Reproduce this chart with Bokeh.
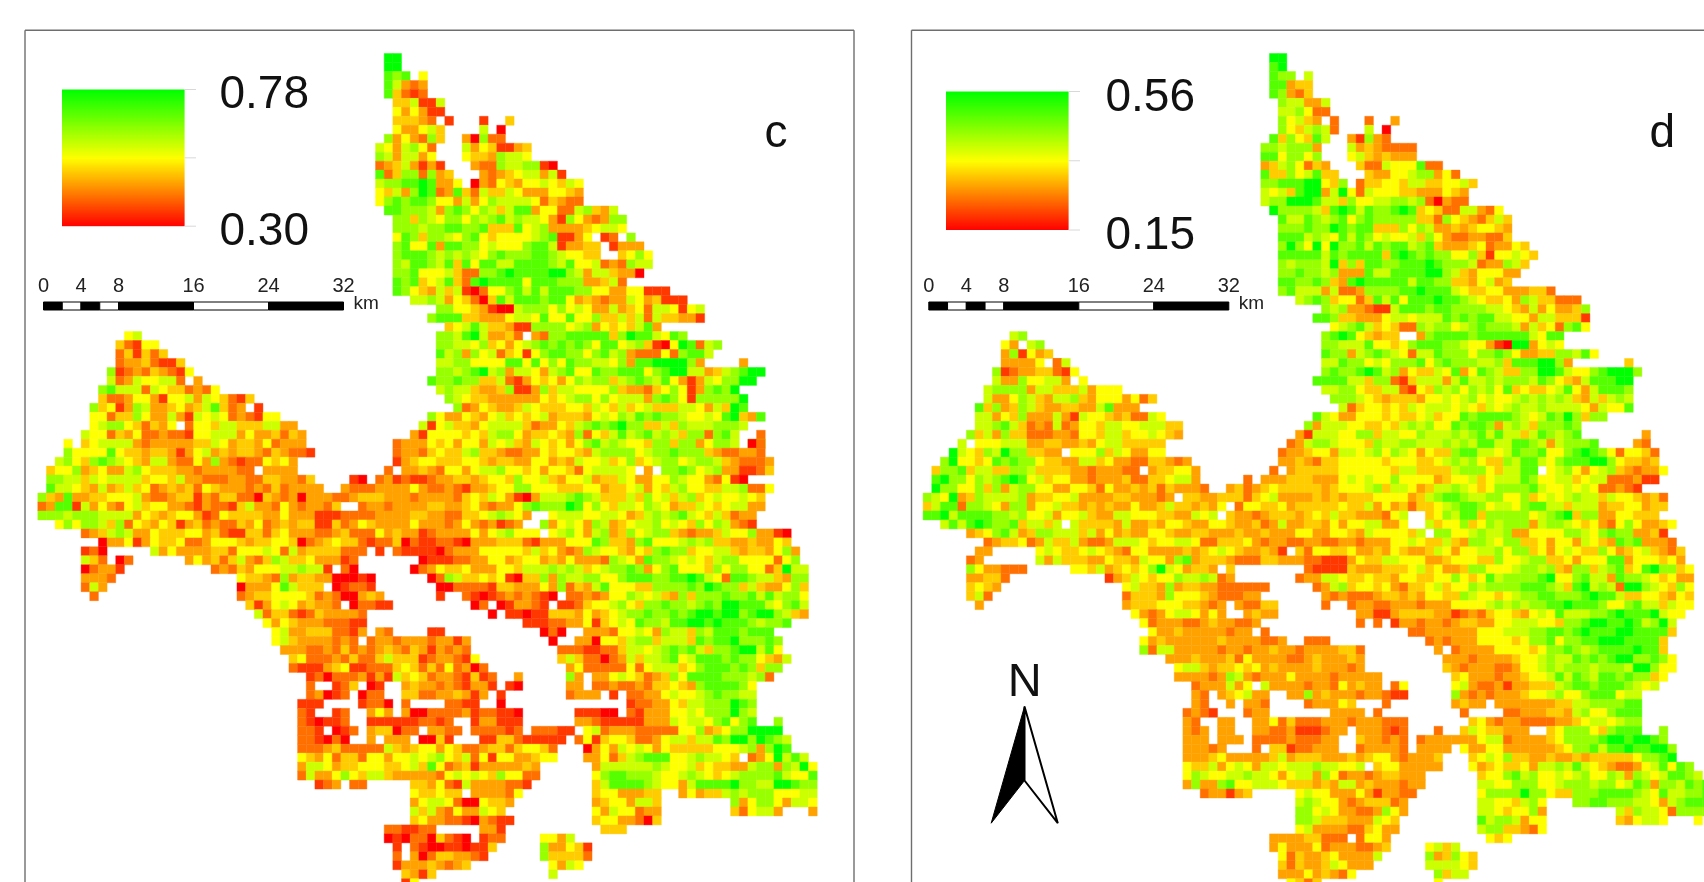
import numpy as np
from bokeh.plotting import figure
from bokeh.embed import file_html
from bokeh.resources import INLINE
from bokeh.models import ColumnDataSource, LinearColorMapper, Range1d
from bokeh.core.properties import value

# Each row: "startcol:levels" runs, '.' = no data. Levels 0 (red) .. 9 (green)
C_ROWS = [
"40:99","40:99","40:878 44:5","40:86323","40:84212","41:446116","41:535311","41:44432 47:1 51:1 54:4",
"41:533564 51:6 53:0","40:7353274 49:30722","39:6536752 49:63541134","39:7636635 49:54437665",
"39:23463131 50:3227667710","39:824772734 51:3234566361","39:6778898335 50:0325435565465",
"39:546379823842644653335543","39:578788755363576666524322","40:88777637875764688355226743 6",
"41:774765775767867665317532377","41:7776778877844485673333 45665","41:5874776578545555678 1 1 3 5 . 1 2 . 7",
"41:78558388775655 57886 1 3 3 4 4 . 1 3 3 3","41:7888767676 5787 7788765 5 4 4 3 . 4 5 7 5","41:768876848588668888 7 6 8 5 5 6 2 3 2 7 6 6",
"41:7785556 4 2 2 778988889 9 7 6 3 6 6 4 3 3 0","41:878456842898888 5 8 8 8 7 7 7 3 3 4 6 2","41:875436461025578686 8887755335511 1",
"43:6676 3 5 4 2 0 4 8 6 8 8 8 7 8 8 5 3 4 3 2 3 3 6 5 3 4 1 1 1","46:77 5 5 4 3 1 0 0 6 7 7 7 5 7 5 6 5 3 3 6 3 4 5 2 6 6 5 1 5 6","45:7 8 8 8 4 4 3 3 3 5 6 6 5 8 5 5 8 5 5 7 4 4 6 4 6 2 6 4 4 3 3 1",
"47:4 5 6 8 6 4 4 3 1 1 7 7 7 7 5 6 7 3 5 4 5 4 6 8 3",
"10:56 46:776896334 2 . 3 2 77 8 8 8 8 8 4 7 9 8 8 6 5 8 7","9:42155 46:7766574535678 7 8 7 8 7 5 8 8 5 6 7 4 1 0 5 9 8 2 6 7 4",
"9:241424 46:8 6 7 3 7 5 6 2 4 5 1 5 7 8 8 7 7 5 7 8 6 7 3 2 2 2 5 2 7 8 8 6 6","9:23342114 46:6 6 7 7 5 5 5 5 8 8 5 8 5 7 5 8 7 7 6 6 5 7 3 8 8 9 9 9 9 7 3 81:3",
"8:7123243215 46:7 7 6 7 8 9 6 7 3 6 6 5 3 6 7 8 5 5 8 7 7 8 8 8 5 7 8 9 9 6 6 3 4 6 7 8 9 9 7",
"8:623655662 18:3 45:8 7 7 8 7 7 4 4 6 2 1 3 5 4 5 3 5 7 6 7 7 4 6 7 8 7 6 8 5 3 1 3 6 5 7 7 9 9",
"7:7866626544 2 3 2 5 46:6 7 6 6 4 3 3 4 7 1 1 3 7 4 6 6 5 5 5 5 7 4 3 3 2 4 5 7 5 1 3 7 8 7 9",
"7:422355315 5 6 3 6 5 4 2 1 4 47:7 6 5 4 4 3 3 3 3 3 3 5 4 5 6 7 7 5 7 5 6 6 6 3 7 8 7 5 1 7 7 7 7 7 9",
"6:7451376 3 3 4 5 3 4 6 8 4 2 3 25:1 48:7 2 3 5 4 3 3 4 6 5 4 4 4 5 5 4 6 5 4 6 4 5 6 4 4 4 6 6 5 3 6 4 9 8",
"6:5524475 3 3 6 3 1 6 5 6 5 2 3 2 1 5 5 45:7 5 3 3 5 4 3 5 6 4 5 4 5 6 3 4 4 4 3 5 6 5 7 6 8 7 8 7 7 6 5 5 6 5 8 9 4 3 8",
"6:5677 5 4 2 4 3 5 17:2 5 5 4 6 6 4 4 4 6 6 3 3 44:6 1 5 6 4 4 3 5 6 6 6 6 4 2 3 3 5 4 6 7 8 7 8 9 7 7 4 4 6 4 7 6 6 6 7 7 7 6 4 7",
"5:6 5 5 2 4 3 5 2 2 3 2 2 1 5 5 6 6 6 3 5 3 3 4 2 4 3 43:3 1 5 5 5 5 4 5 4 6 7 7 5 3 4 4 5 4 3 7 2 5 4 6 8 6 7 8 6 7 6 4 7 7 2 7 8 6 4 6 83:2",
"3:5 5:4 5 6 6 6 6 3 2 3 3 3 3 3 4 4 6 5 3 4 4 3 5 2 3 3 3 41:2 3 3 3 5 4 5 3 5 5 3 6 5 6 4 3 6 5 4 5 3 5 7 8 6 7 6 5 5 4 7 7 4 7 7 3 5 7 7 6 4 7 7 82:0 2",
"3:7 5 5 5 5 8 5 4 4 3 4 4 3 1 3 5 6 3 4 3 4 4 3 2 4 3 2 2 1 41:2 3 3 2 4 5 4 4 6 7 4 4 3 2 2 3 3 5 4 5 5 4 3 6 7 7 7 7 5 6 7 7 8 7 7 7 4 3 2 2 3 3 2",
"2:6 7 5 4 7 8 7 6 5 4 3 6 6 3 2 2 5 3 7 3 2 1 2 2 5 4 5 3 41:1 3 4 5 5 4 4 4 5 5 4 3 4 4 3 3 5 5 3 4 3 6 5 5 6 4 5 7 4 5 6 7 7 5 6 7 7 6 4 3 2 2 2 3 4 4 5",
"1:4 5 5 7 3 4 5 3 3 6 7 5 4 4 4 3 3 2 3 3 3 3 2 2 26:3 3 3 3 40:2 . 3 3 4 3 2 5 5 3 5 6 6 7 5 5 4 5 3 5 5 4 2 5 6 6 6 6 5 . 3 6 7 7 8 7 5 6 7 3 3 1 1 2 4 4 6",
"1:7 7 6 6 4 6 5 6 6 6 6 4 5 5 4 6 3 3 2 2 2 3 3 2 2 4 4 3 3 2 4 36:1 0 39:2 3 1 2 1 1 2 3 3 4 4 3 4 5 5 4 7 5 5 6 4 3 5 5 6 3 4 4 6 5 3 3 5 5 7 6 5 5 3 2 5 1 0",
"1:8 6 6 5 4 3 6 3 4 6 4 5 2 3 4 3 4 2 5 4 3 3 3 2 3 2 4 2 3 3 3 3 35:3 2 2 2 3 3 3 3 5 3 2 2 3 2 1 3 3 4 5 5 7 7 5 5 5 4 4 4 5 5 3 4 4 5 6 3 5 4 6 7 5 5 4 4 6 6 7 2 2 5",
"0:7 4 3 8 3 3 4 4 5 5 5 6 3 2 2 3 4 4 1 3 2 4 4 2 2 0 4 3 2 3 0 3 3 3 2 2 3 4 4 4 3 3 3 2 3 3 3 3 2 4 5 4 6 5 3 1 0 3 6 6 6 7 8 7 6 4 4 4 6 4 7 5 6 4 6 7 4 5 6 5 5 6 5 4",
"0:2 3 8 8 1 6 3 5 3 2 5 6 4 5 5 3 3 2 1 3 2 2 1 4 6 3 3 2 5 3 2 3 3 2 4 3 37:2 3 3 2 3 3 3 3 4 4 3 3 4 5 3 2 3 3 5 7 8 7 7 7 9 8 5 7 5 4 6 6 5 7 6 5 3 4 4 6 5 4 5 6 6 3 3",
"0:7 7 7 6 7 7 7 6 6 6 6 3 5 4 3 4 5 5 3 1 2 5 4 4 4 4 3 3 5 3 3 3 1 1 1 2 2 2 2 3 3 3 3 4 4 3 3 2 2 4 4 5 6 7 6 5 3 8 7 5 6 6 6 5 5 6 6 5 3 4 6 7 6 7 8 6 5 4 6 4 2 3 3",
"2:5 7 5 7 7 6 4 7 2 5 4 3 5 4 1 3 4 2 3 2 2 4 3 5 2 3 4 3 4 4 1 1 4 2 3 5 4 3 3 3 3 5 3 3 3 2 3 5 3 2 3 1 2 3 5 7 7 3 5 6 5 3 7 6 3 4 5 6 6 7 5 6 5 4 7 5 7 6 3 2 1",
"5:2 3 4 6 7 6 3 3 5 4 4 4 5 5 3 4 2 1 1 4 4 2 4 5 3 3 3 2 2 3 4 2 2 2 5 3 4 3 3 1 2 3 3 3 3 5 3 5 6 7 5 5 5 5 5 6 7 5 3 6 7 3 4 7 5 6 7 7 4 3 2 3 3 4 6 5 5 7 3 3 1 0",
"7:0 3 3 5 1 3 5 4 4 5 2 2 3 5 5 5 4 3 4 4 5 5 4 0 2 3 4 5 4 4 2 1 2 2 4 0 2 1 1 2 2 1 0 3 3 3 4 4 4 2 1 3 3 3 5 5 5 8 7 4 4 3 7 8 5 5 5 6 7 6 7 4 4 3 3 4 3 3 5 4 4 7 3 1",
"5:1 2 0 13:6 3 5 3 3 3 3 4 4 2 5 5 5 6 5 2 6 3 4 4 4 4 2 2 2 39:1 41:2 1 1 1 1 0 2 3 3 3 5 5 5 5 5 4 6 4 5 3 2 3 7 6 5 5 4 3 5 4 7 8 7 7 4 5 5 6 6 4 3 4 4 3 5 7 3 3 6 4 3 0",
"5:6 4 2 9:0 2 17:3 5 3 4 2 4 6 3 2 4 7 6 4 4 5 3 3 3 1 2 44:0 1 1 1 2 2 3 3 5 5 3 4 5 5 3 4 3 5 3 3 3 2 7 6 5 3 8 7 7 6 5 6 5 4 6 7 7 5 5 5 5 2 5 7 5 4 7 4 4 1 5",
"5:0 2 3 3 1 20:2 3 2 4 3 5 5 5 6 6 7 6 6 1 35:2 0 43:0 2 3 5 4 4 5 3 3 3 5 5 4 6 6 6 7 6 7 6 4 5 6 7 7 8 7 3 5 7 8 5 5 5 4 7 5 7 7 5 5 2 4 9 6 6 5 5 4",
"5:3 3 3 2 23:5 4 4 3 2 7 3 4 4 3 3 0 0 0 1 0 45:0 2 7 6 4 4 5 4 5 1 0 4 4 7 3 7 6 6 7 7 5 5 7 8 8 8 7 7 8 8 9 8 6 5 2 8 8 7 6 6 4 3 7 7 8 7",
"5:2 6 3 23:0 3 3 3 5 8 6 4 4 4 34:0 1 2 2 1 46:0 0 2 2 2 2 1 4 4 3 3 3 5 3 7 2 4 3 6 8 5 5 5 4 4 7 7 7 7 8 7 9 8 7 7 4 6 4 3 3 5 7 4 4",
"6:2 23:2 3 4 4 5 5 5 5 4 2 3 2 0 0 3 4 3 46:1 49:2 1 0 1 2 3 2 3 2 1 0 . 2 2 3 2 3 5 5 7 6 5 6 4 3 7 4 7 7 7 8 7 7 8 6 8 6 7 7 5 6 7 8 2",
"24:4 1 3 5 6 5 3 4 3 3 2 36:0 2 2 1 1 50:0 2 53:0 1 3 3 2 1 60:1 1 2 4 5 5 6 7 5 4 7 7 8 7 7 6 7 8 7 9 9 8 8 8 6 5 7 8 6 8 7 4 4 3 2",
"25:6 2 4 4 2 1 2 4 3 3 3 3 2 52:0 54:1 1 0 1 1 4 4 4 3 5 3 4 5 6 7 7 8 7 7 8 7 8 9 9 8 9 9 7 8 9 9 7 6 4 3",
"26:5 3 5 4 3 3 3 2 2 2 1 1 56:1 1 1 2 2 3 3 5 1 4 5 6 5 8 7 7 6 8 8 9 9 8 9 8 8 8 7 6 7 7 8",
"27:5 6 3 3 4 4 4 2 2 1 3 39:3 2 45:1 1 58:0 2 0 63:3 3 3 2 5 5 6 5 3 7 6 6 4 7 6 8 8 8 7 8 8 8",
"27:5 6 4 3 3 3 3 2 3 2 . 2 3 3 2 3 3 3 2 3 3 1 3 59:0 62:3 3 0 5 5 4 6 7 7 4 6 6 6 4 8 7 8 8 9 7 7 7 8 7",
"28:3 3 3 2 2 3 2 4 2 3 2 3 4 3 2 4 3 1 3 2 3 2 60:2 2 2 1 1 2 2 4 6 6 5 6 7 8 7 8 6 4 7 7 8 9 9 6 8 5",
"29:4 5 2 2 2 3 2 4 2 2 4 6 4 4 4 1 2 3 3 2 1 5 60:4 6 4 2 2 0 2 3 6 4 6 6 7 8 5 6 8 8 8 7 8 7 7 5 4 3 6",
"29:2 1 1 1 3 4 5 1 1 2 2 2 4 5 4 2 4 2 5 2 3 0 2 61:3 5 2 2 2 2 2 5 2 5 6 6 6 4 5 7 8 8 8 7 8 7 4 7 7",
"31:1 2 0 2 2 2 3 1 3 1 6 4 5 4 2 3 3 2 1 4 1 2 55:3 61:7 3 . 3 3 5 6 5 4 2 3 4 7 5 8 8 8 8 7 7 7 6 7 2",
"31:2 34:1 2 4 38:0 1 42:3 4 3 3 2 3 2 1 3 3 1 54:1 0 61:3 3 64:2 2 3 2 2 3 2 4 4 5 4 3 7 8 8 8 8 7 5",
"31:2 3 0 1 2 37:0 2 2 42:4 4 2 2 3 3 4 3 1 3 53:1 61:2 3 3 3 66:1 68:2 2 3 3 5 6 5 5 6 7 8 7 7 6 6",
"30:1 1 1 37:1 2 2 0 42:2 47:2 2 1 1 53:0 68:1 2 2 3 3 5 4 6 6 7 7 7 9 8 7",
"30:2 1 34:1 2 38:3 5 3 42:3 43:0 0 2 2 2 2 3 1 2 2 1 1 0 62:1 1 1 0 0 68:2 1 3 3 3 5 5 6 5 7 7 7 9 7 6",
"30:2 1 32:0 1 1 2 38:1 1 1 1 1 1 2 2 1 2 50:1 3 3 1 1 1 62:3 3 2 1 1 1 1 1 3 3 72:3 6 5 6 6 5 7 8 5 7 8 85:7",
"30:2 2 1 34:0 1 2 38:3 4 4 0 2 2 45:3 3 2 2 50:2 2 2 2 1 2 57:2 2 2 1 1 63:5 6 2 3 3 3 2 2 2 2 2 5 5 7 3 4 5 7 7 9 9 9 9",
"30:2 2 1 0 2 0 38:3 40:3 3 3 44:0 0 4 1 51:1 1 4 4 2 56:1 1 1 1 1 62:2 5 1 4 5 5 4 2 2 3 5 6 6 4 6 6 8 7 9 9 7 9 8 7 6",
"30:2 2 2 3 4 2 2 2 2 2 6 4 3 4 5 5 3 5 4 2 2 3 4 4 2 4 5 5 4 2 63:0 3 5 3 6 5 6 5 3 5 4 4 4 4 4 5 5 5 6 7 3 7 9 8",
"30:5 4 3 5 2 4 4 2 5 5 3 5 5 6 5 6 7 5 4 6 2 5 1 5 5 3 3 4 5 5 63:3 3 5 2 4 6 7 8 8 8 5 5 6 7 6 6 5 4 . 2 3 5 9 6 8 6",
"30:3 6 6 5 3 4 4 5 5 5 4 4 5 6 4 8 5 2 3 4 1 3 3 3 3 3 4 3 64:3 6 6 6 6 6 6 7 6 5 5 6 4 5 4 4 3 3 6 7 7 3 7 6 9 5",
"30:2 6 3 3 5 7 5 4 6 6 4 3 3 3 3 3 2 5 6 5 6 5 4 7 5 5 2 2 64:5 7 8 8 7 7 7 6 5 5 6 7 6 5 4 5 6 7 7 7 7 8 6 5 5 8",
"32:1 2 3 35:. 2 2 43:4 4 3 5 2 1 6 3 3 3 3 2 2 1 64:4 6 8 8 8 8 7 6 5 5 3 6 8 8 8 8 9 7 7 6 6 9 9 8 7 7",
"43:5 4 4 5 4 4 . 3 3 3 3 2 5 64:4 5 5 3 3 3 4 4 74:3 5 3 4 4 6 7 6 7 7 7 5 5 5 6 6",
"43:3 5 6 6 5 2 0 0 5 4 4 3 64:3 4 5 5 3 6 6 4 80:7 3 5 7 7 5 3 6 6 5",
"43:6 4 6 3 2 5 3 3 6 5 4 64:5 3 6 5 5 2 3 3 80:4 2 5 6 6 3 89:3",
"43:4 5 3 3 2 2 1 0 3 2 1 1 64:4 5 5 3 3 2 0 4",
"40:2 2 1 1 2 2 51:3 3 1 65:4 4 4",
"40:0 1 0 2 2 0 4 2 1 0 51:1 2 2 58:5 5 3 6",
"41:1 43:2 1 0 0 1 1 0 1 1 4 58:7 3 3 5 4 1",
"41:2 43:3 0 2 4 4 3 3 2 1 58:7 4 4 4 4 2",
"41:1 3 3 3 4 3 2 3 4 59:5 3 6 5",
"42:4 3 1 4 59:6",
"42:1 5",
]

D_ROWS = [
"40:99","40:89","40:877 44:6","40:88344","40:87324","41:766336","41:667522","41:75643 47:2 51:2 54:3",
"41:754676 47:2 51:6 53:0","40:8475486 49:31732","39:7767773 49:63432222","39:8857757 49:56434333",
"39:34675243 50:42265558 2 2","39:844756844 51:4335567735 2","39:7788899547 50:2445546644556 4",
"39:656489 9 3 6 9 5 2 6 5 5 5 4 4 3 3 3 5 4 3","39:6 7 7 9 9 9 8 6 6 4 7 5 5 6 6 7 7 6 7 2 0 3 2 2",
"40:9 7 7 7 7 6 4 8 9 8 6 8 7 7 8 9 8 4 5 4 2 2 6 6 3 2 5","41:8 6 6 8 7 6 7 8 5 7 8 7 7 7 7 7 4 4 2 7 5 4 3 2 4 6 4",
"41:7 7 7 8 7 7 9 8 7 8 8 4 4 4 7 5 7 6 3 3 4 3 4 5 5 4 3","41:8 8 8 6 7 6 5 8 6 8 7 5 6 5 5 6 4 7 5 3 2 2 3 3 2 2 4",
"41:7 9 7 5 9 5 9 7 7 8 6 8 7 8 8 6 7 8 4 3 3 3 4 5 2 3 3 5 4","41:8 8 8 8 8 6 8 7 8 8 8 8 4 8 9 8 7 8 7 7 5 5 7 4 1 5 5 6 5 4",
"41:7 6 7 7 7 6 9 4 7 4 8 8 7 7 8 8 8 9 8 7 7 7 6 2 3 3 7 6 4","41:7 7 8 7 7 6 7 3 3 3 8 6 6 8 8 8 8 9 9 7 6 4 3 5 5 5 3 3",
"41:8 8 7 7 8 7 4 3 8 9 8 8 8 8 8 6 8 8 7 7 4 4 3 5 6 3 4","41:7 8 6 6 6 3 6 2 2 3 7 7 7 7 8 8 9 8 8 8 6 5 4 4 5 5 3 3 3 4 4 2",
"43:6 7 8 7 4 5 5 2 4 8 6 8 5 8 8 8 9 8 8 7 6 5 4 4 5 3 7 6 4 4 2 2 2","46:7 6 7 3 3 2 1 1 6 8 8 8 7 8 8 7 7 7 7 6 6 5 4 3 6 3 5 3 3 4 7",
"45:8 8 7 4 4 3 3 3 5 6 6 5 6 6 6 8 7 8 7 8 8 6 6 5 5 3 6 6 4 4 4 1","47:5 6 7 8 6 4 5 4 2 2 7 6 7 7 5 6 7 8 7 7 7 6 3 6 4 5 2 7 8 5",
"10:67 46:7 8 9 8 5 4 3 4 4 . 2 3 7 8 8 8 8 7 8 8 8 8 8 8 6 5 8 8 6 8","9:53 11:. 12:67 46:7 7 6 6 6 8 5 5 4 5 7 8 8 8 7 7 6 5 5 3 1 0 9 9 3 5 6 5",
"9:371 5 3 4 46:8 7 7 3 6 7 8 7 6 5 2 6 6 8 7 7 7 5 7 7 8 7 5 3 3 4 4 7 7 6 8 5 5","9:33 3 3 5 3 2 15:2 6 46:6 6 8 7 7 5 6 5 7 7 7 8 5 7 8 7 7 7 6 6 7 4 8 8 8 9 9 7 3 81:4",
"8:7 1 2 3 3 4 4 2 1 5 46:7 8 7 7 8 9 8 6 7 3 5 4 4 6 5 8 3 5 8 7 6 4 4 7 7 9 9 8 6 5 5 7 8 9 9 9 7",
"8:6 3 3 7 5 5 6 6 3 18:5 45:8 8 8 8 6 6 4 7 7 2 1 4 6 6 6 3 6 8 6 6 7 6 7 7 7 6 8 7 5 4 3 6 8 8 8 9 9",
"7:6 7 7 7 7 3 6 6 4 4 4 6 3 5 5 5 46:6 6 7 7 5 4 4 6 6 2 1 5 4 7 6 7 5 7 6 7 5 8 4 5 4 4 5 6 8 5 3 6 8 8 8 7 8",
"7:6 3 3 5 7 6 4 3 6 6 7 4 3 5 5 5 3 5 2 4 47:7 7 7 6 5 4 3 4 4 4 3 5 5 6 5 6 7 5 6 5 5 6 7 6 7 6 7 6 4 3 6 4 6 7 6 7 8",
"6:8 4 7 3 4 7 6 4 3 3 4 4 3 3 6 8 3 3 3 48:6 2 4 5 5 4 5 4 6 5 6 6 6 5 6 5 4 6 5 6 7 6 6 7 6 6 6 6 5 3 6 5 5 8 8",
"6:6 6 3 5 4 7 3 3 3 6 3 1 6 5 5 4 3 4 2 2 6 5 45:8 6 5 3 3 5 5 5 4 5 4 4 5 6 4 5 5 8 7 8 8 8 8 7 6 5 6 8 7 9 7 4 7 7",
"6:6 6 7 8 6 4 2 3 2 6 2 3 5 5 4 6 6 5 5 6 6 6 4 4 44:7 3 6 6 6 5 5 4 4 5 4 6 7 6 7 5 5 8 7 8 8 7 3 6 7 6 4 7 7 7 8 7",
"5:7 4 6 3 7 4 4 2 2 2 3 3 2 5 5 4 6 6 4 5 5 6 5 4 3 43:3 1 6 6 6 5 5 7 7 4 6 6 5 5 7 6 6 6 7 6 7 8 6 8 6 6 4 6 8 7 6 7 8 83:3",
"4:6 . 5 5 5 6 6 6 3 3 4 4 3 3 4 3 5 6 6 4 4 4 4 4 42:2 3 6 7 7 6 5 5 5 4 7 6 6 7 7 6 6 6 7 6 7 6 8 8 6 6 8 8 7 6 3 6 7 7 7 8 82:3 2",
"3:9 6 5 4 7 6 9 7 7 4 4 3 3 3 5 5 5 7 4 6 5 3 3 5 5 41:2 3 3 4 5 5 3 6 6 5 6 7 5 7 6 5 3 5 4 4 7 8 8 6 6 5 6 8 7 7 8 5 5 7 8 9 8 7 5 2 5 5 4 2",
"2:7 9 5 5 4 5 8 7 8 7 7 5 4 4 3 3 6 6 4 5 3 3 2 2 4 4 3 2 3 41:3 3 4 3 2 4 4 5 5 5 5 5 4 5 5 5 4 4 5 6 7 6 7 5 4 4 7 6 8 8 6 5 7 8 8 8 9 9 7 5 4 4 3 4",
"1:4 7 7 8 4 6 6 4 4 7 7 6 4 4 4 4 3 3 2 3 3 3 2 2 3 3 4 4 5 5 3 40:2 42:3 4 4 4 4 4 5 5 5 5 5 5 4 6 6 4 4 4 4 6 7 7 7 5 4 6 6 8 8 8 5 6 7 5 3 5 6 7 4 3 2 3 3 5 4 1",
"1:8 9 7 7 5 7 6 7 8 9 8 5 6 4 5 5 3 3 2 3 3 3 4 2 2 4 4 5 6 6 3 37:2 39:3 3 3 4 4 4 3 3 3 5 6 5 6 5 5 7 5 5 5 5 3 4 5 5 6 4 5 6 6 6 8 7 5 5 6 6 4 5 6 6 2 2 2 3 1 1",
"1:9 7 7 5 5 7 4 7 3 6 7 7 5 5 3 3 5 5 4 2 5 3 3 4 3 4 2 4 3 3 3 2 35:3 4 2 3 4 5 4 4 4 4 4 3 4 5 5 5 6 7 4 6 6 5 3 4 6 6 7 6 5 4 5 7 7 7 7 8 6 5 5 6 5 6 5 2 2 3 2 1",
"0:7 6 5 9 3 4 7 6 6 6 6 7 3 4 4 5 5 6 3 3 3 3 4 4 3 3 3 2 3 3 4 4 3 3 4 4 4 2 4 5 6 3 3 3 3 4 3 4 3 4 4 4 5 5 5 5 3 4 6 7 8 8 7 6 6 7 7 5 5 7 4 5 6 5 6 7 6 6 4 6 5 5 4 3 4 2",
"0:4 6 8 8 2 7 7 6 5 3 7 7 3 5 5 6 4 4 3 4 3 4 3 3 5 3 3 4 6 4 4 3 4 3 5 . 2 5 5 4 4 5 3 4 4 4 4 4 5 4 4 6 3 5 3 4 2 4 4 5 6 7 8 8 7 5 6 6 5 7 8 8 6 6 4 6 6 6 3 4 4 5 5 3 4 4",
"0:8 8 9 6 8 8 8 8 7 7 6 7 5 5 6 3 5 5 6 4 3 3 6 6 5 5 5 4 4 3 3 6 5 6 6 4 3 3 2 3 4 4 4 3 4 5 4 6 4 4 3 3 3 2 5 6 6 5 4 5 7 6 8 8 4 7 7 7 7 7 5 6 7 8 9 4 7 7 3 3 5 5 4 4 4",
"2:6 8 6 8 9 8 7 7 8 4 6 6 4 6 6 6 4 4 4 4 3 6 3 3 4 3 5 5 4 3 3 5 5 4 3 3 4 2 3 6 3 3 4 4 3 5 3 5 5 6 6 3 3 5 6 4 6 4 5 5 7 4 5 7 6 7 7 7 3 6 7 7 6 5 4 5 3 2 5 7 5 3 3 4 5",
"5:3 4 5 7 8 6 3 4 7 7 6 6 6 4 6 3 5 3 4 3 3 5 5 4 3 3 4 4 3 3 3 4 3 3 4 3 3 3 5 5 3 3 5 5 4 3 6 5 5 5 5 4 6 3 7 7 5 5 6 7 6 6 7 3 3 5 5 5 5 7 7 6 5 7 8 7 7 3 3 4 1",
"7:2 3 4 4 5 2 3 6 4 4 6 3 2 2 3 6 6 6 5 4 5 5 6 6 5 2 2 4 4 4 5 3 2 3 3 2 2 3 3 2 2 3 3 2 3 3 3 5 5 6 5 4 4 6 4 3 7 7 6 5 7 7 4 4 5 3 5 5 3 6 5 4 3 8 7 8 3 3 3 2",
"6:3 3 13:5 6 5 4 4 5 6 5 4 3 2 5 5 3 3 3 3 4 3 4 5 6 5 4 3 3 4 3 1 3 4 2 5 5 4 4 5 3 3 4 3 5 4 3 3 4 6 5 3 5 5 6 6 7 5 7 7 4 5 3 5 6 5 4 4 7 5 3 4 5 6 4 3 2 4 4 2 3",
"5:2 3 13:6 3 6 4 4 4 3 3 5 4 4 3 6 5 5 3 7 8 3 4 4 4 3 2 2 2 4 4 3 3 3 2 2 1 1 1 3 5 4 4 6 6 5 5 5 3 3 4 5 5 5 4 4 7 5 5 6 7 7 4 4 5 3 5 5 5 8 8 3 5 5 5 4 5 3",
"5:7 5 3 3 2 2 2 17:5 5 4 6 3 4 5 4 5 7 9 6 5 3 4 4 3 3 4 44:2 1 1 1 1 4 3 3 3 4 4 4 5 6 4 5 3 3 4 7 7 5 5 5 6 7 7 6 7 4 3 7 7 4 6 7 8 4 5 8 9 7 7 4 5 5 4 4 3",
"5:3 3 4 4 2 21:1 3 4 6 5 4 5 5 7 6 6 7 6 2 3 3 43:2 3 3 6 6 5 4 4 5 4 4 3 5 5 4 4 5 5 7 5 4 5 8 6 7 7 7 7 8 9 5 5 7 8 6 6 3 8 7 7 6 5 4 5 3 3 4",
"5:4 5 4 3 23:5 6 4 4 3 7 3 4 4 3 3 2 2 2 2 2 2 45:2 3 6 7 4 5 5 4 5 3 2 4 4 5 6 4 5 5 7 6 7 7 7 7 8 8 8 7 6 4 8 9 6 7 6 2 9 9 7 6 5 4 7 5 5 6 4",
"5:4 6 2 23:2 4 4 4 3 7 5 5 5 4 33:3 2 2 2 3 3 46:3 2 3 2 2 2 3 4 4 3 4 3 5 5 4 4 7 6 5 5 4 5 6 7 7 8 8 7 7 7 8 9 8 8 6 4 4 5 5 4 3 5 4 4 6 3",
"6:3 23:3 4 4 4 5 5 5 4 4 3 2 3 3 3 36:3 2 2 4 4 46:2 49:2 3 3 2 2 3 3 3 2 3 3 3 5 5 5 5 6 7 6 7 6 7 7 8 8 9 8 8 8 7 5 5 7 8 6 6 4 6 5 5 4 3",
"24:5 3 2 3 5 6 6 5 3 5 3 37:3 4 3 3 50:3 3 1 1 3 4 4 4 4 3 3 1 2 3 2 4 5 5 4 3 5 6 5 8 6 6 6 7 7 8 9 8 8 8 9 6 5 5 4",
"25:5 2 3 3 3 2 2 3 4 3 3 2 2 3 50:2 52:2 54:1 3 3 2 3 3 2 3 4 4 3 3 5 5 6 6 6 5 5 4 7 7 8 9 9 8 8 9 8 6 7 9 6 5 3",
"26:5 3 3 4 3 3 3 3 3 2 3 3 39:2 56:2 2 3 3 3 3 3 3 5 5 5 6 6 6 7 7 8 8 7 8 9 8 8 8 9 9 8 8 8 8 4",
"25:5 3 4 3 3 3 3 3 3 4 3 3 3 3 2 2 3 44:2 2 2 58:2 3 2 3 3 3 5 5 5 5 4 5 7 7 8 5 7 7 8 8 9 9 9 8 8 8 8 4",
"25:7 2 6 6 3 3 3 3 3 2 3 3 2 3 3 4 3 3 2 3 3 3 3 4 4 2 59:3 61:2 3 3 3 3 5 5 5 5 4 5 7 7 8 7 6 7 8 8 8 8 9 8 8 4",
"28:3 3 3 4 3 3 3 4 2 5 3 3 3 3 2 2 3 4 3 3 3 4 3 60:3 3 3 2 3 3 3 3 4 5 5 6 7 6 6 8 7 8 7 8 9 9 7 7 8 7 5",
"29:5 6 6 4 3 4 4 5 4 5 3 4 3 3 3 3 4 3 3 3 2 3 60:4 3 2 3 3 3 2 2 3 5 5 6 7 6 7 7 7 6 7 7 7 6 9 9 7 5 5",
"29:3 3 3 3 2 3 7 6 3 2 3 3 3 5 3 3 3 3 2 3 3 3 3 3 61:4 5 3 3 3 2 3 3 4 5 5 6 8 6 8 7 6 8 8 7 8 7 7 4 5",
"31:2 3 3 3 6 3 5 . 6 3 3 3 3 2 3 3 2 5 3 4 3 3 54:2 5 61:5 6 3 2 2 3 1 3 3 4 4 4 6 7 8 8 7 8 8 8 7 6 5 6",
"31:3 2 34:3 4 5 37:6 3 3 42:3 3 7 3 4 3 3 3 2 3 3 53:2 1 1 61:7 3 2 3 2 3 3 3 4 5 5 6 7 5 5 7 8 8 8 5 6 6",
"31:3 2 35:3 37:3 3 2 44:2 3 3 3 5 4 53:2 61:3 4 3 3 66:3 3 3 3 3 3 3 4 4 6 6 7 7 7 7 8 8",
"30:2 3 2 1 37:2 3 3 47:3 3 3 3 52:2 62:2 67:2 2 3 3 3 4 4 3 6 7 5 5 7 8 8 8",
"30:3 2 34:3 3 38:3 3 5 2 4 2 2 2 3 3 3 2 3 3 3 2 2 2 63:4 5 3 2 3 3 2 2 2 2 3 3 4 5 6 6 5 6 7 7",
"30:3 2 3 34:3 3 38:3 3 2 2 3 1 1 1 2 3 3 50:3 3 3 2 1 2 59:2 62:4 6 5 4 4 3 3 3 72:4 5 7 7 7 5 4 7 8 8 8 85:7",
"30:3 3 3 34:3 3 3 38:2 2 2 2 3 2 2 2 3 47:3 50:4 3 3 2 3 2 57:2 3 3 3 3 3 63:3 5 6 6 2 3 3 3 3 4 5 7 7 7 7 8 9 9 8 9 9 8 7",
"30:3 3 3 2 2 34:3 38:2 40:4 4 1 2 2 3 3 3 50:2 3 3 3 3 2 57:3 3 3 3 62:5 63:3 3 5 5 3 3 3 3 3 3 4 5 7 7 8 6 8 8 9 8 8 9 9 7",
"30:3 3 3 4 5 3 3 3 3 3 4 6 3 4 4 4 3 3 3 4 3 4 5 5 3 2 3 3 3 4 63:4 5 6 5 7 4 4 3 3 4 3 3 4 3 4 4 4 4 4 5 7 7 8 9",
"30:5 4 4 6 3 5 6 5 3 6 6 5 6 6 6 7 6 6 5 5 6 . 4 5 5 3 3 3 3 3 63:5 3 4 5 4 4 5 3 6 6 7 6 8 6 5 4 3 2 2 3 5 6 8 5 8 7",
"30:5 7 6 5 5 6 6 7 6 6 5 3 5 6 6 3 7 5 2 3 3 2 3 4 4 3 3 3 64:4 5 5 7 8 6 7 5 5 6 5 6 7 5 5 7 6 3 7 6 5 6 8 8 7 6",
"30:3 7 3 3 7 8 5 5 6 6 6 5 4 4 4 3 4 3 6 6 3 4 3 3 3 2 3 3 64:6 6 5 5 7 7 7 5 5 6 7 7 7 6 7 7 5 6 8 7 3 7 7 6 8 7 8",
"32:2 3 3 1 3 4 43:5 6 5 5 3 3 3 5 3 1 3 3 2 2 64:5 7 7 7 7 9 7 7 5 4 4 7 7 7 8 8 8 8 7 6 5 8 6 6 7 7 8",
"43:6 7 6 5 5 3 2 3 4 4 4 2 3 64:6 6 5 5 4 6 7 5 75:7 7 8 8 7 7 7 6 6 5 3 6 7 8 8 8",
"43:7 7 5 6 5 3 3 2 2 3 7 5 3 64:6 6 5 4 5 5 7 3 80:6 4 7 6 6 5 2 7 7 7 7",
"43:7 7 6 4 4 4 3 3 3 6 5 4 64:8 6 7 7 6 3 5 5 80:4 3 5 6 6 5 89:5",
"43:5 6 3 3 3 3 2 2 4 5 3 3 64:6 7 7 4 4 3 2 5",
"40:3 3 3 3 4 4 2 2 2 50:2 5 5 3 65:5 4 5",
"40:3 5 3 3 3 5 2 3 3 3 2 2 3 4 58:5 6 4 6",
"41:5 2 4 3 3 4 5 3 3 3 3 6 58:7 3 4 7 5 4",
"41:4 2 4 3 3 4 6 5 3 3 3 58:6 6 6 6 5 4",
"41:3 3 3 5 3 4 3 2 5 59:7 4 6 6",
"42:5 4 2 4 59:5",
"42:3 5",
]

# last data column of each row from row 31 on (rows below 31 and above 63 are as typed)
C_END = [74, 78, 77, 81, 83, 82, 82, 82, 81, 83, 81, 83, 83, 84, 84, 84, 85, 85, 85, 85, 84, 86, 86, 86, 87, 87, 88, 88, 88, 88, 88, 88, 86]
D_END = [73, 78, 77, 81, 83, 81, 81, 81, 81, 82, 81, 83, 83, 85, 84, 85, 85, 85, 85, 85, 84, 86, 86, 86, 87, 87, 88, 88, 88, 88, 88, 87, 86]
# (row, column) cells with no data inside the region
C_HOLES = [(20,67),(22,65),(31,56),(36,17),(39,24),(41,16),(42,81),(42,82),(43,81),(46,25),(46,41),(46,71),(50,35),
           (51,57),(51,58),(52,56),(52,57),(53,58),(57,34),(59,33),(61,35),(61,52),(61,59)]
D_HOLES = [(32,11),(34,14),(36,17),(44,16),(46,25),(46,41),(46,71),(49,29),(50,35),(51,34),(51,56),(51,57),(52,16),
           (52,56),(52,57),(53,58),(42,81),(42,82),(43,81),(55,42),(57,34),(58,36),(61,35),(62,35),(62,36),(31,56),(7,46)]

C_TITLE = "c"; D_TITLE = "d"
C_LOW, C_HIGH = 0.30, 0.78
D_LOW, D_HIGH = 0.15, 0.56
LEVELS = [0, .11, .22, .32, .40, .50, .60, .70, .83, 1.0]
SCALE_EDGES = [0, 2, 4, 6, 8, 16, 24, 32]
SCALE_LABELS = [0, 4, 8, 16, 24, 32]

def ramp(t):
    return "#%02x%02x00" % ((255, int(510*t)) if t <= .5 else (int(255*(2-2*t)), 255))
PALETTE = [ramp(i/255) for i in range(256)]

W, H = 1704, 882
p = figure(width=W, height=H, x_range=Range1d(0, W), y_range=Range1d(H, 0), toolbar_location=None,
           output_backend="svg", min_border=0, outline_line_color=None,
           styles={"position": "fixed", "left": "0px", "top": "0px"})
p.axis.visible = False
p.grid.visible = False

def cells(rows, ends, holes, low, high, dx):
    L, R, T, B, V = [], [], [], [], []
    holes = set(holes)
    for r, row in enumerate(rows):
        col = 0
        end = ends[r-31] if 31 <= r < 31+len(ends) else 999
        for tok in row.split(" "):
            if not tok:
                continue
            if ":" in tok:
                a, tok = tok.split(":")
                col = int(a)
            for ch in tok:
                if ch != "." and col <= end and (r, col) not in holes:
                    L.append(dx + 37.3 + col*8.66); R.append(dx + 37.3 + (col+1)*8.66)
                    T.append(53 + r*8.97); B.append(53 + (r+1)*8.97)
                    V.append(low + (high-low)*LEVELS[int(ch)])
                col += 1
    return dict(l=L, r=R, t=T, b=B, v=V)

def panel(rows, ends, holes, low, high, dx, lx, ly0, ly1, tx, ty0, ty1, frame_l, frame_r, title, title_x):
    mapper = LinearColorMapper(palette=PALETTE, low=low, high=high)
    src = ColumnDataSource(cells(rows, ends, holes, low, high, dx))
    col = {"field": "v", "transform": mapper}
    p.quad(left="l", right="r", top="t", bottom="b", source=src, fill_color=col, line_color=col, line_width=0.4)
    # frame
    p.line([frame_l, frame_l], [H, 29.7], line_color="#6e6e6e", line_width=1.4)
    p.line([frame_l, frame_r], [29.7, 29.7], line_color="#6e6e6e", line_width=1.4)
    if frame_r < W:
        p.line([frame_r, frame_r], [29.7, H], line_color="#6e6e6e", line_width=1.4)
    # legend ramp
    grad = np.linspace(high, low, 256).reshape(256, 1)
    p.image(image=[grad], x=lx, y=ly0, dw=122.6, dh=ly1-ly0, color_mapper=mapper)
    for y in (ly0, (ly0+ly1)/2, ly1):
        p.line([lx+122.6, lx+134], [y, y], line_color="#d8d8d8", line_width=1)
    p.text([tx, tx], [ty0, ty1], text=[f"{high:.2f}", f"{low:.2f}"], text_font=value("Liberation Sans"),
           text_font_size="46px", text_baseline="middle", text_color="#111111")
    p.text([title_x], [130.5], text=[title], text_font=value("Liberation Sans"), text_font_size="46px",
           text_baseline="middle", text_color="#111111")
    # scale bar
    sx = 43 + dx
    k = 300/32
    for i in range(len(SCALE_EDGES)-1):
        fill = "#000000" if i in (0, 2, 4, 6) else "#ffffff"
        p.quad(left=[sx+SCALE_EDGES[i]*k], right=[sx+SCALE_EDGES[i+1]*k], top=[301.5], bottom=[309.5],
               fill_color=fill, line_color="#000000", line_width=1)
    p.text([sx+v*k for v in SCALE_LABELS], [284]*6, text=[str(v) for v in SCALE_LABELS],
           text_font=value("Liberation Sans"), text_font_size="20px", text_align="center",
           text_baseline="middle", text_color="#222222")
    p.text([353+dx], [302], text=["km"], text_font=value("Liberation Sans"), text_font_size="19px",
           text_baseline="middle", text_color="#222222")

panel(C_ROWS, C_END, C_HOLES, C_LOW, C_HIGH, 0, 61.5, 89, 225.7, 219, 91, 228, 24.5, 853.5, C_TITLE, 764)
panel(D_ROWS, D_END, D_HOLES, D_LOW, D_HIGH, 885.3, 945.5, 91, 229.5, 1105, 94.5, 232, 911, 1720, D_TITLE, 1649)

# north arrow
p.text([1024.3], [679], text=["N"], text_font=value("Liberation Sans"), text_font_size="47px",
       text_align="center", text_baseline="middle", text_color="#111111")
p.patch([1024, 990.7, 1024], [706, 822.7, 780], fill_color="#000000", line_color="#000000", line_width=1)
p.patch([1024, 1057.3, 1024], [706, 822.7, 780], fill_color="#ffffff", line_color="#000000", line_width=2)

open("out.html", "w").write(file_html(p, INLINE))
